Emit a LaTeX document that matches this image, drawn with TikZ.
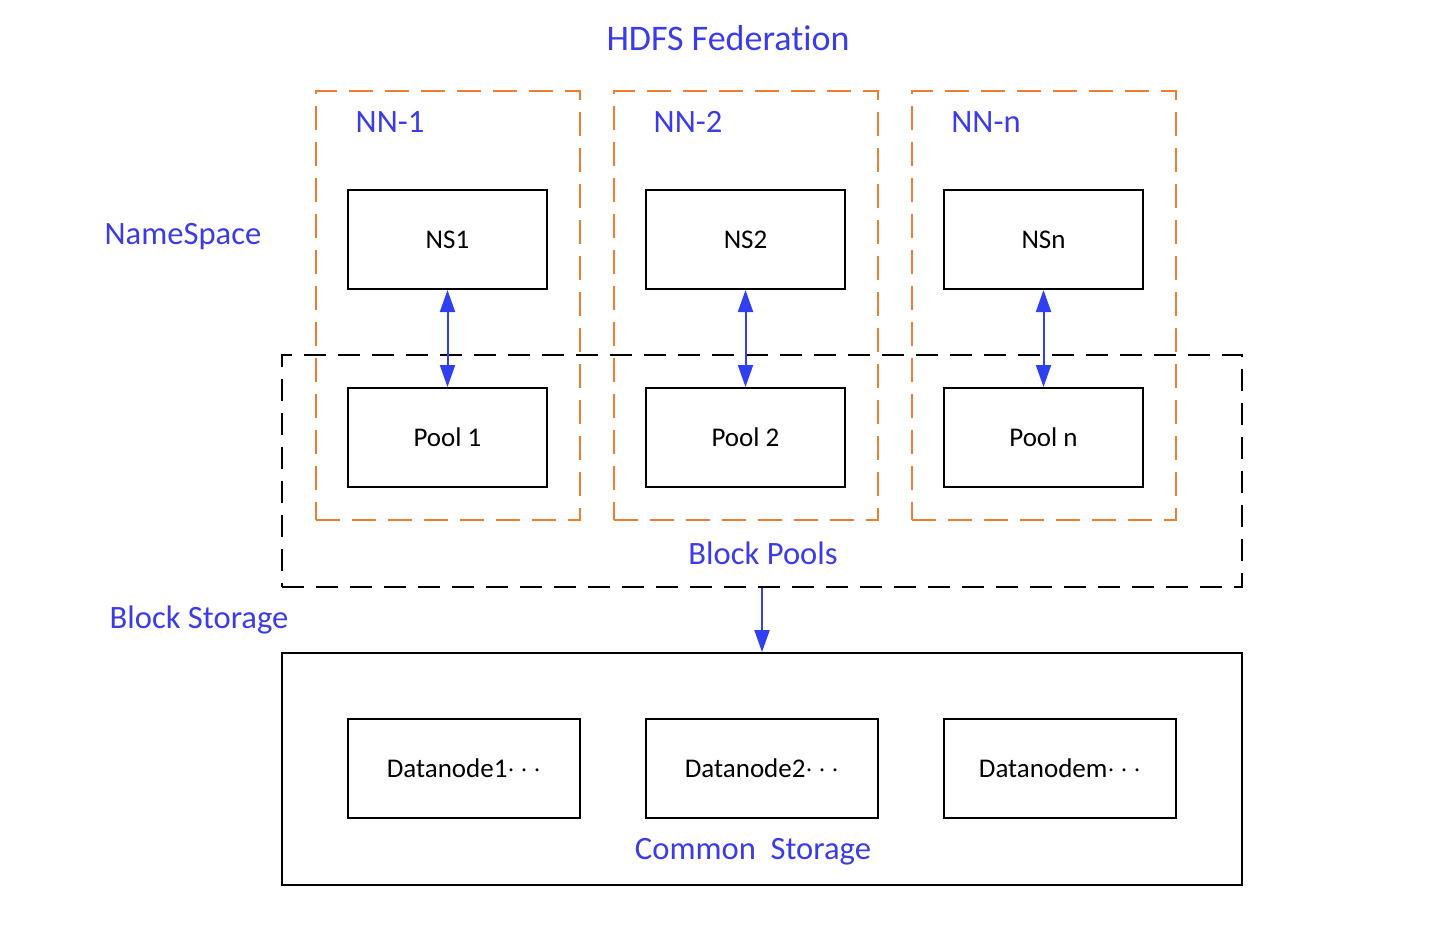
\documentclass[tikz,border=0pt]{standalone}
\usepackage{fontspec}
\setmainfont{Carlito}[Ligatures=NoCommon]
\usetikzlibrary{positioning,arrows.meta}
\definecolor{lblblue}{RGB}{59,59,232}
\definecolor{arrblue}{RGB}{48,64,240}
\definecolor{nnorange}{RGB}{237,125,49}

\begin{document}
\begin{tikzpicture}[x=0.5pt, y=-0.5pt, node distance=99pt, on grid,
    font=\fontsize{13.5}{16}\selectfont,
    box/.style={draw, line width=1pt, fill=white, minimum width=99.5pt,
      minimum height=49.5pt, inner sep=0pt},
    dnbox/.style={box, minimum width=116pt},
    nnframe/.style={draw=nnorange, line width=1pt, dash pattern=on 12pt off 6pt,
      minimum width=132pt, minimum height=214.5pt, inner sep=0pt},
    bigframe/.style={draw, line width=0.9pt, minimum width=480pt,
      minimum height=116pt, inner sep=0pt},
    lbl/.style={text=lblblue, font=\fontsize{16.3}{19}\selectfont},
    link/.style={draw=arrblue, line width=1pt,
      {Triangle[length=11pt,width=7.5pt]}-{Triangle[length=11pt,width=7.5pt]}}]
    \useasboundingbox (0,0) rectangle (1454,942);%
    \node[lbl, font=\fontsize{18}{21}\selectfont] (title) at (728,38) {HDFS Federation};%
    % name node frames
    \node[nnframe] (nn1) at (448,305.5) {};%
    \node[nnframe] (nn2) at (745.5,305.5) {};%
    \node[nnframe] (nnn) at (1043.5,305.5) {};%
    \node[bigframe, dash pattern=on 11pt off 6pt] (pools) at (762,471) {};%
    \node[lbl] at (390,122) {NN-1};%
    \node[lbl] at (688,122) {NN-2};%
    \node[lbl] at (986,122) {NN-n};%
    \node[lbl] (nslbl) at (183,237) {NameSpace};%
    \node[lbl] (bslbl) at (199,620) {Block Storage};%
    \node[lbl] (bplbl) at (763,553) {Block Pools};%
    % namespaces and pools
    \node[box] (ns1) at (447.5,239.5) {NS1};%
    \node[box] (ns2) at (745.5,239.5) {NS2};%
    \node[box] (nsn) at (1043.5,239.5) {NSn};%
    \node[box] (pool1) [below=of ns1] {Pool 1};%
    \node[box] (pool2) [below=of ns2] {Pool 2};%
    \node[box] (pooln) [below=of nsn] {Pool n};%
    \path[link] (ns1) -- (pool1);%
    \path[link] (ns2) -- (pool2);%
    \path[link] (nsn) -- (pooln);%
    % common storage
    \node[bigframe] (common) at (762,769) {};%
    \node[dnbox] (dn1) at (464,768.5) {Datanode1$\cdots$};%
    \node[dnbox] (dn2) at (762,768.5) {Datanode2$\cdots$};%
    \node[dnbox] (dnm) at (1060,768.5) {Datanodem$\cdots$};%
    \node[lbl] (cslbl) at (753,852) {Common\ \ Storage};%
    \draw[draw=arrblue, line width=1pt, -{Triangle[length=11pt,width=7.5pt]}]
      (pools.south) -- (common.north);%
\end{tikzpicture}
\end{document}
